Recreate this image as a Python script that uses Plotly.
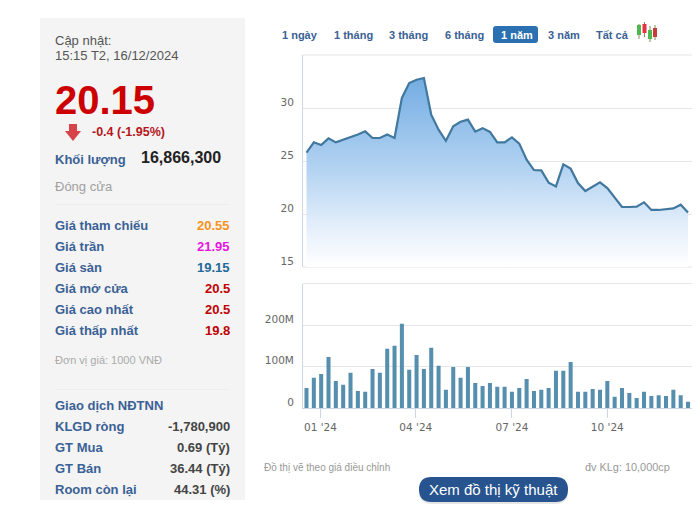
import plotly.graph_objects as go

W, H = 700, 507

week_index = list(range(53))
close_price = [25.8, 26.76, 26.5, 27.14, 26.76, 27.0, 27.2, 27.5, 27.8, 27.17, 27.17, 27.5, 27.17,
               30.95, 32.35, 32.67, 32.83, 29.37, 27.95, 26.9, 28.27, 28.7, 28.9, 27.77, 28.1, 27.74,
               26.76, 26.76, 27.23, 26.64, 25.13, 24.15, 24.12, 22.96, 22.6, 24.69, 24.28, 22.92,
               22.17, 22.6, 22.99, 22.45, 21.5, 20.66, 20.66, 20.7, 21.1, 20.38, 20.38, 20.47,
               20.53, 20.88, 20.13]
volume_m = [48, 73, 82, 123, 65, 56, 85, 41, 39, 94, 85, 143, 150, 203, 92, 128, 94, 145, 102, 44,
            99, 73, 99, 60, 53, 60, 51, 51, 39, 48, 70, 41, 44, 48, 90, 90, 111, 39, 39, 46, 44,
            65, 27, 48, 36, 24, 39, 29, 31, 29, 44, 31, 15]
x_tick_positions = [1.9, 14.9, 28, 41]
x_tick_labels = ["01 '24", "04 '24", "07 '24", "10 '24"]
price_ticks = [15, 20, 25, 30, 35]
price_tick_labels = ["15", "20", "25", "30", ""]
volume_ticks = [0, 100, 200, 300]
volume_tick_labels = ["0", "100M", "200M", ""]

stat_labels = ["Giá tham chiếu", "Giá trần", "Giá sàn", "Giá mở cửa", "Giá cao nhất", "Giá thấp nhất"]
stat_values = ["20.55", "21.95", "19.15", "20.5", "20.5", "19.8"]
stat_colors = ["#f7931e", "#e815e0", "#1f6a99", "#c00000", "#c00000", "#c00000"]
foreign_labels = ["KLGD ròng", "GT Mua", "GT Bán", "Room còn lại"]
foreign_values = ["-1,780,900", "0.69 (Tỷ)", "36.44 (Tỷ)", "44.31 (%)"]
tab_labels = ["1 ngày", "1 tháng", "3 tháng", "6 tháng", "1 năm", "3 năm", "Tất cả"]

FONT = "Liberation Sans"
BLUE = "#3a6195"
AXIS = "#ccd6e6"
GRID = "#e6e6e6"


def px(x):
    return x / W


def py(y):
    return 1 - y / H


annotations = []


def text(s, x, y, size=13, color="#555555", bold=False, anchor="left"):
    annotations.append(dict(
        text=f"<b>{s}</b>" if bold else s, x=px(x), y=py(y), xref="paper", yref="paper",
        xanchor=anchor, yanchor="middle", showarrow=False,
        font=dict(family=FONT, size=size, color=color), borderpad=0, borderwidth=0))


shapes = []


def rect(x0, y0, x1, y1, color, line=None, layer="below"):
    shapes.append(dict(type="rect", xref="paper", yref="paper", x0=px(x0), x1=px(x1), y0=py(y0), y1=py(y1),
                       fillcolor=color, line=dict(width=0 if line is None else 1, color=line or color), layer=layer))


def poly(points, color):
    d = "M" + " L".join(f"{px(a):.5f},{py(b):.5f}" for a, b in points) + " Z"
    shapes.append(dict(type="path", xref="paper", yref="paper", path=d, fillcolor=color,
                       line=dict(width=0), layer="above"))


def rounded(x0, y0, x1, y1, r, color):
    pts = (f"M{px(x0+r):.5f},{py(y0):.5f} L{px(x1-r):.5f},{py(y0):.5f} "
           f"Q{px(x1):.5f},{py(y0):.5f} {px(x1):.5f},{py(y0+r):.5f} L{px(x1):.5f},{py(y1-r):.5f} "
           f"Q{px(x1):.5f},{py(y1):.5f} {px(x1-r):.5f},{py(y1):.5f} L{px(x0+r):.5f},{py(y1):.5f} "
           f"Q{px(x0):.5f},{py(y1):.5f} {px(x0):.5f},{py(y1-r):.5f} L{px(x0):.5f},{py(y0+r):.5f} "
           f"Q{px(x0):.5f},{py(y0):.5f} {px(x0+r):.5f},{py(y0):.5f} Z")
    shapes.append(dict(type="path", xref="paper", yref="paper", path=pts, fillcolor=color,
                       line=dict(width=0), layer="above"))


# left panel
rect(40, 18, 245, 500, "#f4f4f4")
rect(55, 204, 230, 204.8, "#ebebeb")
rect(55, 389, 230, 389.8, "#ebebeb")
text("Cập nhật:", 55, 41, 13, "#555555")
text("15:15 T2, 16/12/2024", 55, 55, 13, "#555555")
text("20.15", 54.5, 100, 40, "#cc0000", True)
poly([(69, 124), (77, 124), (77, 131), (81, 131), (73, 141), (65, 131), (69, 131)], "#d8434a")
text("-0.4 (-1.95%)", 92, 132, 12.5, "#b5161b", True)
text("Khối lượng", 55, 159, 13, BLUE, True)
text("16,866,300", 141, 157, 16, "#222222", True)
text("Đóng cửa", 55, 186, 13, "#a0a0a0")

for i, (lab, val, col) in enumerate(zip(stat_labels, stat_values, stat_colors)):
    y = 225 + i * 21
    text(lab, 55, y, 13, BLUE, True)
    text(val, 229.5, y, 13, col, True, "right")
text("Đơn vị giá: 1000 VNĐ", 55, 360, 11, "#aaaaaa")
text("Giao dịch NĐTNN", 55, 405, 13, BLUE, True)
for i, (lab, val) in enumerate(zip(foreign_labels, foreign_values)):
    y = 426 + i * 21
    text(lab, 55, y, 13, BLUE, True)
    text(val, 229.5, y, 13, "#444444", True, "right")

# tabs
rounded(493, 26, 538, 43, 3, "#2b71b1")
for lab, x in zip(tab_labels, [282, 333.5, 389, 444.5, 500.5, 548, 596]):
    text(lab, x, 34.5, 11, "#ffffff" if lab == "1 năm" else BLUE, True)

# candlestick icon
for cx, top, bot, c0, c1, col in [(639, 24, 39, 25, 35, "#4eb74e"), (644.5, 22, 37, 24, 33, "#e5343f"),
                                   (650, 26, 42, 30, 39, "#4eb74e"), (655, 25, 40, 28, 37, "#c83c3c")]:
    rect(cx - 0.5, top, cx + 0.5, bot, "#8a8a55", layer="above")
    rect(cx - 2, c0, cx + 2, c1, col, layer="above")

# frame lines at the ends of the value axes
for y in (55, 267, 283.5):
    rect(303, y - 0.5, 691.7, y + 0.5, GRID)

# footer
text("Đồ thị vẽ theo giá điều chỉnh", 264, 467, 10, "#999999")
text("đv KLg: 10,000cp", 670, 467, 10.9, "#999999", False, "right")
rounded(419, 478, 568, 504, 13, "rgba(0,0,0,0.10)")
rounded(419, 477, 568, 502, 12.5, "#27548f")
text("Xem đồ thị kỹ thuật", 493.5, 489, 15, "#ffffff", False, "center")

fig = go.Figure()
fig.add_trace(go.Scatter(
    x=week_index, y=close_price, mode="lines", line=dict(color="#41789f", width=2.2),
    fill="tozeroy",
    fillgradient=dict(type="vertical", start=33, stop=15,
                      colorscale=[[0, "#72ace2"], [0.5, "#b5d4f2"], [0.8, "#e6f0fb"], [1, "#ffffff"]]),
    hoverinfo="skip", xaxis="x", yaxis="y"))
fig.add_trace(go.Bar(x=week_index, y=volume_m, width=0.55, marker=dict(color="#568fae", line=dict(width=0)),
                     hoverinfo="skip", xaxis="x2", yaxis="y2"))

tickfont = dict(family="DejaVu Sans", size=10.5, color="#666666")
x_range = [-0.477, 52.5]
xdomain = [px(303), px(691.7)]
fig.update_layout(
    width=W, height=H, margin=dict(l=0, r=0, t=0, b=0, autoexpand=False), paper_bgcolor="white",
    plot_bgcolor="rgba(0,0,0,0)",
    showlegend=False, annotations=annotations, shapes=shapes, font=dict(family=FONT),
    xaxis=dict(domain=xdomain, range=x_range, anchor="y", showgrid=False, showticklabels=False, ticks="",
               zeroline=False, showline=False, automargin=False),
    yaxis=dict(domain=[py(267), py(55)], range=[15, 35], anchor="x", tickvals=price_ticks, automargin=False,
               ticktext=price_tick_labels, tickfont=tickfont, gridcolor=GRID, gridwidth=1, zeroline=False,
               showline=True, linecolor=AXIS, linewidth=1, ticks="", ticklabelshift=-6, ticklabelstandoff=6),
    xaxis2=dict(domain=xdomain, range=x_range, anchor="y2", tickvals=x_tick_positions, ticktext=x_tick_labels,
                tickfont=tickfont, showgrid=False, zeroline=False, showline=True, linecolor=AXIS, linewidth=1,
                ticks="outside", ticklen=9, tickcolor=AXIS, tickwidth=1, automargin=False),
    yaxis2=dict(domain=[py(408), py(283.5)], range=[0, 300], anchor="x2", tickvals=volume_ticks, automargin=False,
                ticktext=volume_tick_labels, tickfont=tickfont, gridcolor=GRID, gridwidth=1, zeroline=False,
                showline=True, linecolor=AXIS, linewidth=1, ticks="", ticklabelshift=-6, ticklabelstandoff=6),
    bargap=0.45,
)

fig.write_html("out.html", config={"displayModeBar": False},
               post_script="document.body.style.margin='0';document.body.style.overflow='hidden';")
